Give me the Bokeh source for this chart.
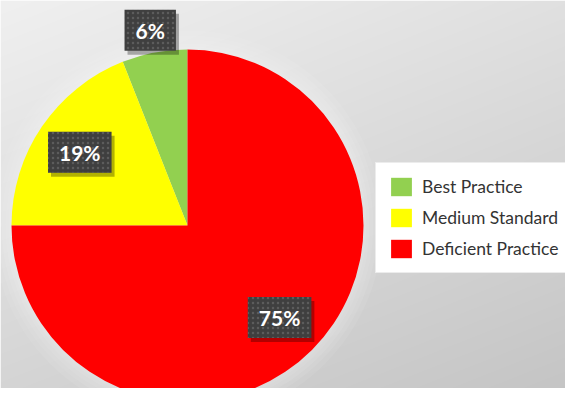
import numpy as np
from bokeh.plotting import figure
from bokeh.models import ColumnDataSource, Range1d
from bokeh.core.properties import value
from bokeh.embed import file_html
from bokeh.resources import INLINE

# ---- data ----
categories = ["Best Practice", "Medium Standard", "Deficient Practice"]
shares = [6, 19, 75]
labels = ["6%", "19%", "75%"]
colors = ["#92d050", "#ffff00", "#ff0000"]
label_radius = [1.13, 0.74, 0.74]   # label placement (fraction of radius)

W, H = 565, 388
cx, cy, r = 187, 163, 176

p = figure(width=W, height=H, output_backend="svg", toolbar_location=None,
           x_range=Range1d(0, W), y_range=Range1d(0, H),
           x_axis_type=None, y_axis_type=None, min_border=0)
p.grid.visible = False
p.outline_line_color = None

# background gradient (decoration)
yy, xx = np.mgrid[0:H, 0:W]
ytop = H - 1 - yy
v = np.clip(240 - 28 * ytop / 396 - 16 * xx / 573, 0, 255).astype(np.uint8)
img = np.empty((H, W), dtype=np.uint32)
view = img.view(dtype=np.uint8).reshape((H, W, 4))
view[..., 0] = v
view[..., 1] = v
view[..., 2] = v
view[..., 3] = 255
p.image_rgba(image=[img], x=0, y=0, dw=W, dh=H)

# soft glow around the pie
for k in [3, 6, 10, 14, 19]:
    p.circle(x=cx, y=cy, radius=r + k, fill_color="white", fill_alpha=0.07, line_color=None)

vals = np.array(shares, dtype=float)
frac = vals / vals.sum()
ends = np.pi / 2 + 2 * np.pi * np.cumsum(frac)
starts = ends - 2 * np.pi * frac
mids = (starts + ends) / 2
lr = np.array(label_radius) * r
src = ColumnDataSource(dict(cat=categories, start=starts, end=ends, color=colors,
                            lx=cx + lr * np.cos(mids), ly=cy + lr * np.sin(mids), lab=labels))

p.wedge(x=cx, y=cy, radius=r, start_angle="start", end_angle="end",
        fill_color="color", line_color=None, source=src, legend_field="cat")

# label shadows
p.text(x="lx", y="ly", text="lab", source=src, text_align="center", text_baseline="middle",
       text_font=value("Lato"), text_font_style="bold", text_font_size="21px",
       text_alpha=0, x_offset=3, y_offset=4, padding=(11, 8),
       background_fill_color="black", background_fill_alpha=0.3)
# label boxes
p.text(x="lx", y="ly", text="lab", source=src, text_align="center", text_baseline="middle",
       text_font=value("Lato"), text_font_style="bold", text_font_size="21px",
       text_color="white", padding=(11, 8),
       background_fill_color="#3f3f3f",
       background_hatch_pattern="dot", background_hatch_color="#5c5c5c",
       background_hatch_scale=5)

lg = p.legend[0]
lg.location = (375, 115)
lg.glyph_width = 26
lg.glyph_height = 23
lg.label_standoff = 8
lg.spacing = 8
lg.padding = 12
lg.margin = 0
lg.label_text_font = "Lato"
lg.label_text_font_size = "17.5px"
lg.label_text_color = "#333333"
lg.border_line_color = "#d9d9d9"
lg.background_fill_color = "white"
lg.background_fill_alpha = 1.0

open("out.html", "w").write(file_html(p, INLINE))
